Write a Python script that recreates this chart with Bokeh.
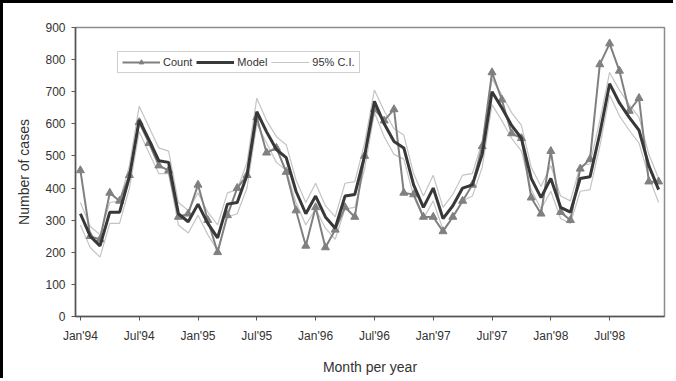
from bokeh.plotting import figure
from bokeh.models import Range1d, FixedTicker, Legend, LegendItem, ColumnDataSource
from bokeh.embed import file_html
from bokeh.resources import INLINE

months = list(range(60))
tick_months = [0, 6, 12, 18, 24, 30, 36, 42, 48, 54]
tick_labels = ["Jan'94", "Jul'94", "Jan'95", "Jul'95", "Jan'96",
               "Jul'96", "Jan'97", "Jul'97", "Jan'98", "Jul'98"]

count = [455, 250, 240, 385, 360, 440, 605, 540, 470, 455, 310, 320,
         410, 300, 200, 315, 400, 440, 620, 510, 525, 450, 330, 220,
         340, 215, 270, 340, 310, 500, 645, 610, 645, 385, 380, 310,
         310, 265, 310, 360, 410, 530, 760, 675, 570, 555, 370, 320,
         515, 325, 300, 460, 490, 785, 850, 765, 640, 680, 420, 420]

model = [320, 250, 220, 325, 325, 435, 612, 550, 485, 480, 320, 295,
         350, 290, 245, 350, 355, 440, 638, 575, 520, 495, 390, 320,
         375, 310, 275, 375, 380, 500, 670, 600, 545, 525, 410, 340,
         400, 305, 345, 400, 410, 505, 700, 650, 595, 555, 430, 370,
         430, 340, 325, 430, 435, 570, 725, 665, 620, 580, 470, 395]

ci_upper = [355, 280, 255, 355, 360, 470, 655, 590, 525, 515, 355, 330,
            385, 325, 285, 385, 395, 480, 680, 610, 560, 535, 425, 355,
            415, 345, 310, 415, 420, 540, 705, 640, 585, 565, 445, 375,
            440, 340, 380, 440, 445, 545, 740, 690, 635, 595, 465, 405,
            470, 375, 360, 470, 475, 610, 760, 705, 660, 620, 505, 430]

ci_lower = [285, 215, 185, 290, 290, 400, 575, 510, 445, 445, 285, 260,
            315, 255, 205, 310, 320, 400, 600, 540, 480, 455, 355, 285,
            335, 275, 240, 335, 340, 460, 635, 560, 505, 490, 375, 305,
            360, 270, 310, 360, 375, 465, 660, 610, 555, 515, 395, 335,
            390, 305, 290, 390, 395, 530, 690, 625, 580, 540, 435, 355]

src = ColumnDataSource(dict(x=months, count=count, model=model,
                            up=ci_upper, lo=ci_lower))

FONT = "Liberation Sans"

p = figure(width=673, height=378, output_backend="svg", toolbar_location=None,
           x_range=Range1d(-0.5, 59.6), y_range=Range1d(0, 900),
           min_border_left=72, min_border_right=12, min_border_top=24,
           min_border_bottom=65)
p.background_fill_color = "white"
p.border_fill_color = "white"
p.outline_line_color = "#8c8c8c"
p.outline_line_width = 1.5
p.xgrid.visible = False
p.ygrid.visible = False

# axes
p.yaxis.ticker = FixedTicker(ticks=list(range(0, 901, 100)))
p.xaxis.ticker = FixedTicker(ticks=tick_months)
p.xaxis.major_label_overrides = {m: l for m, l in zip(tick_months, tick_labels)}
for ax in (p.xaxis[0], p.yaxis[0]):
    ax.axis_line_color = "#555555"
    ax.axis_line_width = 1.5
    ax.major_tick_line_color = "#555555"
    ax.major_tick_in = 0
    ax.major_tick_out = 4
    ax.minor_tick_line_color = None
    ax.major_label_text_font = FONT
    ax.major_label_text_font_size = "12px"
    ax.major_label_text_color = "#333333"
    ax.axis_label_text_font = FONT
    ax.axis_label_text_font_size = "14px"
    ax.axis_label_text_font_style = "normal"
    ax.axis_label_text_color = "#333333"
p.xaxis.axis_label = "Month per year"
p.yaxis.axis_label = "Number of cases"
p.xaxis.major_label_standoff = 8
p.xaxis.axis_label_standoff = 13
p.yaxis.major_label_standoff = 6
p.yaxis.axis_label_standoff = 10

# series
r_up = p.line("x", "up", source=src, line_color="#c4c4c4", line_width=1.2)
r_lo = p.line("x", "lo", source=src, line_color="#c4c4c4", line_width=1.2)
r_cl = p.line("x", "count", source=src, line_color="#808080", line_width=2)
r_cm = p.scatter("x", "count", source=src, marker="triangle", size=8,
                 fill_color="#808080", line_color="#808080")
r_model = p.line("x", "model", source=src, line_color="#383838", line_width=3)

legend = Legend(items=[
    LegendItem(label="Count", renderers=[r_cl, r_cm]),
    LegendItem(label="Model", renderers=[r_model]),
    LegendItem(label="95% C.I.", renderers=[r_up]),
], orientation="horizontal", location=(42, 243))
legend.label_text_font = FONT
legend.label_text_font_size = "11px"
legend.label_text_color = "#333333"
legend.glyph_width = 38
legend.glyph_height = 12
legend.label_standoff = 3
legend.spacing = 4
legend.padding = 4
legend.margin = 0
legend.border_line_color = "#a0a0a0"
legend.border_line_width = 1
legend.background_fill_alpha = 1
p.add_layout(legend, "center")

p.styles = {"border-left": "3px solid black", "border-top": "3px solid black"}

open("out.html", "w").write(file_html(p, INLINE))
